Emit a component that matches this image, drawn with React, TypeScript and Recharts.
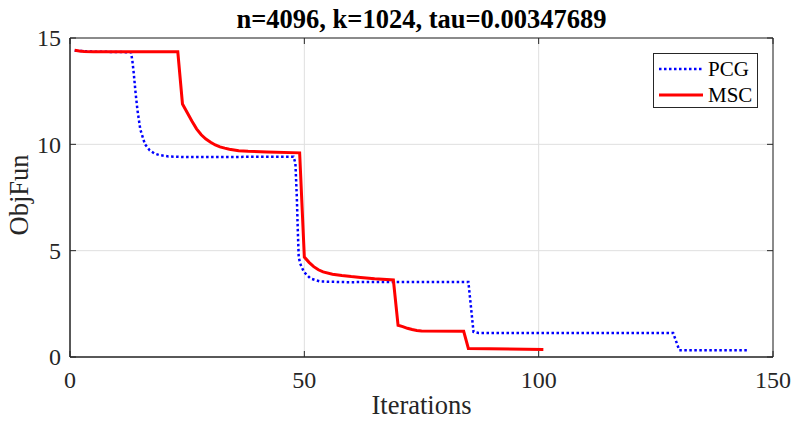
import { CartesianGrid, Legend, Line, LineChart, ReferenceArea, XAxis, YAxis } from "recharts"

// PCG (dotted blue): iteration, objective
const pcgIter = [1, 5, 13, 13.3, 13.6, 14, 14.4, 15, 16, 17, 18, 19, 21, 25, 47.7, 48.1, 48.4, 48.6, 48.8, 49.1, 49.9, 51.3, 53.4, 59, 85, 86.1, 87.2, 128.7, 130, 144.7]
const pcgObj = [14.4, 14.36, 14.33, 13.95, 13.35, 12.4, 11.6, 10.7, 10.0, 9.72, 9.57, 9.5, 9.43, 9.4, 9.42, 9.1, 7.5, 6.0, 4.7, 4.4, 4.0, 3.69, 3.55, 3.52, 3.53, 1.18, 1.13, 1.13, 0.32, 0.32]

// MSC (solid red)
const mscIter = [1, 2, 3, 5, 23, 24, 25, 26, 27, 28, 29, 30, 31, 32, 33, 34, 36, 38, 42, 49, 50, 51, 52, 53, 54, 56, 58, 60, 62, 65, 69, 70, 71, 72, 73, 74, 75, 84, 85, 101]
const mscObj = [14.42, 14.39, 14.37, 14.35, 14.35, 11.9, 11.5, 11.1, 10.73, 10.45, 10.25, 10.1, 9.97, 9.88, 9.82, 9.77, 9.7, 9.67, 9.64, 9.6, 4.7, 4.45, 4.25, 4.1, 4.0, 3.89, 3.83, 3.78, 3.74, 3.68, 3.62, 1.49, 1.43, 1.35, 1.29, 1.25, 1.22, 1.21, 0.4, 0.35]

const xTicks = [0, 50, 100, 150]
const yTicks = [0, 5, 10, 15]

const pcgData = pcgIter.map((x, i) => ({ x, y: pcgObj[i] }))
const mscData = mscIter.map((x, i) => ({ x, y: mscObj[i] }))

const plotTop = 38
const plotBottom = 357
const plotLeft = 70
const plotRight = 773
const axisColor = "#262626"
const font = "'Liberation Serif', 'Times New Roman', serif"

function XTick({ x, y, payload }: any) {
    return (
        <g>
            <line x1={x} x2={x} y1={plotBottom} y2={plotBottom - 6} stroke={axisColor} />
            <line x1={x} x2={x} y1={plotTop} y2={plotTop + 6} stroke={axisColor} />
            <text x={x} y={y} dy="0.71em" textAnchor="middle" fill={axisColor} fontSize={24} fontFamily={font}>
                {payload.value}
            </text>
        </g>
    )
}

function YTick({ x, y, payload }: any) {
    return (
        <g>
            <line x1={plotLeft} x2={plotLeft + 6} y1={y} y2={y} stroke={axisColor} />
            <line x1={plotRight} x2={plotRight - 6} y1={y} y2={y} stroke={axisColor} />
            <text x={x} y={y} dy="0.35em" textAnchor="end" fill={axisColor} fontSize={24} fontFamily={font}>
                {payload.value}
            </text>
        </g>
    )
}

function LegendBox() {
    const rows = [
        { name: "PCG", color: "#0000ff", dash: "2.5 2.5", width: 2.5 },
        { name: "MSC", color: "#ff0000", dash: undefined, width: 3 },
    ]
    return (
        <div
            style={{
                width: 103,
                height: 53,
                border: `1px solid ${axisColor}`,
                background: "#fff",
                fontFamily: font,
                fontSize: 21,
                color: "#000",
            }}
        >
            {rows.map((r) => (
                <div key={r.name} style={{ display: "flex", alignItems: "center", height: 26, marginTop: r.name === "PCG" ? 2 : 0 }}>
                    <svg width={54} height={26}>
                        <line x1={5} x2={49} y1={13} y2={13} stroke={r.color} strokeWidth={r.width} strokeDasharray={r.dash} />
                    </svg>
                    <span style={{ lineHeight: "26px" }}>{r.name}</span>
                </div>
            ))}
        </div>
    )
}

export default function App() {
    return (
        <div style={{ position: "absolute", left: 0, top: 0, width: 793, height: 421, background: "#fff" }}>
            <div
                style={{
                    position: "absolute",
                    left: plotLeft,
                    width: plotRight - plotLeft,
                    top: 4,
                    textAlign: "center",
                    fontFamily: font,
                    fontWeight: "bold",
                    fontSize: 26.5,
                    color: "#000",
                    lineHeight: "30px",
                }}
            >
                n=4096, k=1024, tau=0.00347689
            </div>
            <LineChart width={793} height={421} margin={{ top: plotTop, right: 793 - plotRight, bottom: 0, left: 0 }}>
                <CartesianGrid stroke="#dfdfdf" strokeWidth={1} />
                <XAxis
                    dataKey="x"
                    type="number"
                    domain={[0, 150]}
                    ticks={xTicks}
                    allowDataOverflow
                    height={421 - plotBottom}
                    tickSize={0}
                    tickMargin={14}
                    tick={<XTick />}
                    axisLine={{ stroke: axisColor }}
                    label={{
                        content: () => (
                            <text x={(plotLeft + plotRight) / 2} y={414} textAnchor="middle" fill={axisColor} fontSize={26.5} fontFamily={font}>
                                Iterations
                            </text>
                        ),
                    }}
                />
                <YAxis
                    type="number"
                    domain={[0, 15]}
                    ticks={yTicks}
                    allowDataOverflow
                    width={plotLeft}
                    tickSize={0}
                    tickMargin={9}
                    tick={<YTick />}
                    axisLine={{ stroke: axisColor }}
                    label={{
                        content: () => (
                            <text
                                x={28}
                                y={195}
                                transform="rotate(-90 28 195)"
                                textAnchor="middle"
                                fill={axisColor}
                                fontSize={26.5}
                                fontFamily={font}
                            >
                                ObjFun
                            </text>
                        ),
                    }}
                />
                <ReferenceArea x1={0} x2={150} y1={0} y2={15} fill="none" stroke={axisColor} strokeWidth={1} />
                <Line
                    data={pcgData}
                    dataKey="y"
                    name="PCG"
                    type="linear"
                    stroke="#0000ff"
                    strokeWidth={2.5}
                    strokeDasharray="2.5 2.5"
                    dot={false}
                    isAnimationActive={false}
                />
                <Line
                    data={mscData}
                    dataKey="y"
                    name="MSC"
                    type="linear"
                    stroke="#ff0000"
                    strokeWidth={3}
                    dot={false}
                    isAnimationActive={false}
                />
                <Legend
                    layout="vertical"
                    align="center"
                    verticalAlign="middle"
                    content={<LegendBox />}
                    wrapperStyle={{ left: 653, top: 53, width: 105, height: 55 }}
                />
            </LineChart>
        </div>
    )
}
